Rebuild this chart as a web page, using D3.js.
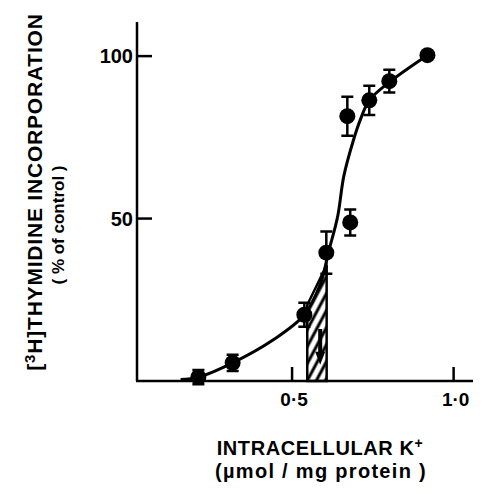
<!DOCTYPE html>
<html>
<head>
<meta charset="utf-8">
<script src="https://cdn.jsdelivr.net/npm/d3@7"></script>
<style>
  body { margin: 0; background: #fff; }
  text { font-family: "Liberation Sans", Arial, sans-serif; font-weight: bold; fill: #000; }
</style>
</head>
<body>
<div id="grafiek"></div>
<script>
// meetpunten: intracellulair K+ tegen thymidine-inbouw (% van controle)
var kalium = [0.21, 0.316, 0.538, 0.606, 0.68, 0.671, 0.739, 0.801, 0.919];
var inbouw = [1.2, 5.6, 20.4, 39.5, 48.8, 81.5, 86.4, 92.3, 100.3];
var fout = [2.2, 2.5, 3.7, 6.5, 4, 6, 4.5, 3.5, 0];

// getekende curve door de punten
var curveK = [0.155, 0.21, 0.316, 0.442, 0.538, 0.588, 0.613, 0.641, 0.66, 0.688, 0.712, 0.739, 0.801, 0.919];
var curveY = [0.5, 1.2, 5.6, 12.7, 20.4, 30, 39.8, 50.6, 63, 73.5, 80.6, 86.4, 92, 100.3];

// gearceerd gebied
var bandK = [0.547, 0.607];
var bandTop = [23.4, 35.7];
var pijlK = 0.587, pijlVan = 16, pijlTot = 5;

var xTicks = [0.5, 1.0], xTickLabels = ["0·5", "1·0"];
var yTicks = [50, 100], yTickLabels = ["50", "100"];

var breedte = 490, hoogte = 494;

var svg = d3.select("#grafiek").append("svg")
            .attr("width", breedte)
            .attr("height", hoogte);

var x = d3.scaleLinear().domain([0.02, 1.06]).range([137, 473]);
var y = d3.scaleLinear().domain([0, 110.5]).range([381, 22]);

// arcering patroon
var defs = svg.append("defs");
var patroon = defs.append("pattern")
                  .attr("id", "arcering")
                  .attr("patternUnits", "userSpaceOnUse")
                  .attr("width", 8)
                  .attr("height", 8)
                  .attr("patternTransform", "rotate(28)");
patroon.append("line")
       .attr("x1", 2).attr("y1", 0)
       .attr("x2", 2).attr("y2", 8)
       .attr("stroke", "#000")
       .attr("stroke-width", 3);

var band = [[bandK[0], 0], [bandK[1], 0], [bandK[1], bandTop[1]], [bandK[0], bandTop[0]]];
svg.append("path")
   .attr("d", d3.line().x(function(d) {return x(d[0])}).y(function(d) {return y(d[1])})(band) + "Z")
   .attr("fill", "url(#arcering)")
   .attr("stroke", "#000")
   .attr("stroke-width", 2.5);

// pijl in de band
svg.append("line")
   .attr("x1", x(pijlK)).attr("x2", x(pijlK))
   .attr("y1", y(pijlVan)).attr("y2", y(pijlTot + 3))
   .attr("stroke", "#000").attr("stroke-width", 4);
svg.append("path")
   .attr("d", "M" + (x(pijlK) - 5) + "," + y(pijlTot + 4) + "L" + (x(pijlK) + 5) + "," + y(pijlTot + 4) +
              "L" + x(pijlK) + "," + y(pijlTot) + "Z")
   .attr("fill", "#000");

// assen
svg.append("line")
   .attr("x1", x(0.02)).attr("x2", x(0.02))
   .attr("y1", y(110.5)).attr("y2", y(0))
   .attr("stroke", "#000").attr("stroke-width", 2.5);
svg.append("line")
   .attr("x1", x(0.02) - 1).attr("x2", x(1.06))
   .attr("y1", y(0)).attr("y2", y(0))
   .attr("stroke", "#000").attr("stroke-width", 2.5);

svg.selectAll(".ytick")
   .data(yTicks)
   .enter().append("line")
   .attr("class", "ytick")
   .attr("x1", x(0.02)).attr("x2", x(0.02) + 15)
   .attr("y1", function(d) {return y(d)}).attr("y2", function(d) {return y(d)})
   .attr("stroke", "#000").attr("stroke-width", 2.5);

svg.selectAll(".ylabel")
   .data(yTicks)
   .enter().append("text")
   .attr("class", "ylabel")
   .attr("x", 133)
   .attr("y", function(d) {return y(d)})
   .attr("dy", "0.36em")
   .attr("text-anchor", "end")
   .style("font-size", "20px")
   .text(function(d, i) {return yTickLabels[i]});

svg.selectAll(".xtick")
   .data(xTicks)
   .enter().append("line")
   .attr("class", "xtick")
   .attr("x1", function(d) {return x(d)}).attr("x2", function(d) {return x(d)})
   .attr("y1", y(0)).attr("y2", y(0) - 14)
   .attr("stroke", "#000").attr("stroke-width", 2.5);

svg.selectAll(".xlabel")
   .data(xTicks)
   .enter().append("text")
   .attr("class", "xlabel")
   .attr("x", function(d) {return x(d) + 2})
   .attr("y", 406)
   .attr("text-anchor", "middle")
   .style("font-size", "19px")
   .text(function(d, i) {return xTickLabels[i]});

// curve
var lijn = d3.line()
             .x(function(d, i) {return x(curveK[i])})
             .y(function(d) {return y(d)})
             .curve(d3.curveCatmullRom.alpha(0.5));
svg.append("path")
   .attr("d", lijn(curveY))
   .attr("fill", "none")
   .attr("stroke", "#000")
   .attr("stroke-width", 3);

// foutbalken
var punten = svg.selectAll(".punt")
                .data(inbouw)
                .enter().append("g")
                .attr("class", "punt");

punten.filter(function(d, i) {return fout[i] > 0})
      .append("path")
      .attr("d", function(d, i) {
        var px = x(kalium[i]), boven = y(d + fout[i]), onder = y(d - fout[i]);
        return "M" + px + "," + boven + "V" + onder +
               "M" + (px - 6) + "," + boven + "H" + (px + 6) +
               "M" + (px - 6) + "," + onder + "H" + (px + 6);
      })
      .attr("stroke", "#000")
      .attr("stroke-width", 2.5)
      .attr("fill", "none");

punten.append("circle")
      .attr("cx", function(d, i) {return x(kalium[i])})
      .attr("cy", function(d) {return y(d)})
      .attr("r", 8)
      .attr("fill", "#000");

// as titels
var yTitel = svg.append("text")
                .attr("transform", "translate(42,192) rotate(-90)")
                .attr("text-anchor", "middle")
                .style("font-size", "21px")
                .style("letter-spacing", "0.8px");
yTitel.append("tspan").text("[");
yTitel.append("tspan").attr("dy", -7).style("font-size", "15px").text("3");
yTitel.append("tspan").attr("dy", 7).text("H]THYMIDINE INCORPORATION");

svg.append("text")
   .attr("transform", "translate(64,225) rotate(-90)")
   .attr("text-anchor", "middle")
   .style("font-size", "17px")
   .text("( % of control )");

var xTitel = svg.append("text")
                .attr("x", 320)
                .attr("y", 455)
                .attr("text-anchor", "middle")
                .style("font-size", "20px")
                .style("letter-spacing", "0.6px");
xTitel.append("tspan").text("INTRACELLULAR  K");
xTitel.append("tspan").attr("dy", -7).style("font-size", "14px").text("+");

svg.append("text")
   .attr("x", 321)
   .attr("y", 478)
   .attr("text-anchor", "middle")
   .style("font-size", "20px")
   .style("letter-spacing", "1.3px")
   .text("(µmol / mg protein )");
</script>
</body>
</html>
